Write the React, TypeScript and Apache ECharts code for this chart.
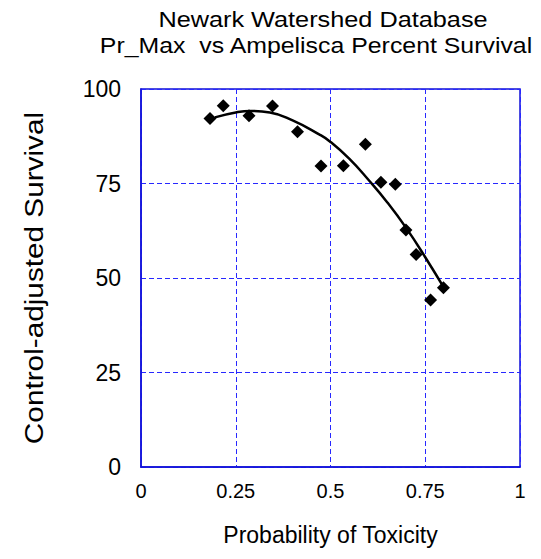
import React, { useEffect, useRef } from "react";
import * as echarts from "echarts";

// Observed samples: probability of toxicity vs control-adjusted survival
const probability = [0.182, 0.217, 0.285, 0.347, 0.413, 0.475, 0.534, 0.592, 0.633, 0.671, 0.699, 0.726, 0.764, 0.798];
const survival = [92.2, 95.6, 92.9, 95.5, 88.7, 79.6, 79.7, 85.4, 75.3, 74.8, 62.7, 56.2, 44.2, 47.4];

// Fitted trend curve, sampled along the x range of the data
const fitX = [0.195, 0.25, 0.29, 0.34, 0.4, 0.47, 0.5, 0.55, 0.6, 0.65, 0.7, 0.75, 0.8];
const fitY = [92.5, 93.8, 94.2, 93.8, 91.7, 88.0, 86.0, 81.5, 76.0, 70.0, 63.2, 55.5, 47.3];

const xTicks = [0, 0.25, 0.5, 0.75, 1];
const yTicks = [0, 25, 50, 75, 100];

const titleLines = ["Newark Watershed Database", "Pr_Max  vs Ampelisca Percent Survival"];
const xTitle = "Probability of Toxicity";
const yTitle = "Control-adjusted Survival";

const FONT = "'Liberation Sans', Arial, sans-serif";
const BLUE = "#1010d8";
const GRID_BLUE = "#2828ff";

export default function App() {
  const ref = useRef<HTMLDivElement>(null);

  useEffect(() => {
    if (!ref.current) return;
    const chart = echarts.init(ref.current, undefined, { renderer: "svg" });
    const scatterData = probability.map((x, i) => [x, survival[i]]);
    const fitData = fitX.map((x, i) => [x, fitY[i]]);

    const textStyle = (size: number) => ({
      fontFamily: FONT,
      fontSize: size,
      fill: "#000",
      align: "center",
      verticalAlign: "middle",
    });

    chart.setOption({
      animation: false,
      backgroundColor: "#ffffff",
      graphic: [
        {
          type: "text",
          x: 323,
          y: 20,
          scaleX: 1.15,
          style: { ...textStyle(22), text: titleLines[0] },
        },
        {
          type: "text",
          x: 316,
          y: 46,
          scaleX: 1.13,
          style: { ...textStyle(22), text: titleLines[1] },
        },
        {
          type: "text",
          x: 34,
          y: 278,
          rotation: Math.PI / 2,
          scaleX: 1.19,
          style: { ...textStyle(25), text: yTitle },
        },
      ],
      grid: {
        left: 141,
        top: 89,
        width: 379,
        height: 378,
        show: true,
        borderColor: BLUE,
        borderWidth: 1.5,
        backgroundColor: "transparent",
      },
      xAxis: {
        type: "value",
        min: xTicks[0],
        max: xTicks[xTicks.length - 1],
        interval: 0.25,
        name: xTitle,
        nameLocation: "middle",
        nameGap: 56,
        nameTextStyle: { fontFamily: FONT, fontSize: 23, color: "#000" },
        axisLine: { show: true, lineStyle: { color: BLUE, width: 1.5 } },
        axisTick: { show: false },
        axisLabel: {
          fontFamily: FONT,
          fontSize: 20,
          color: "#000",
          margin: 14,
          formatter: (v: number) => String(v),
        },
        splitLine: { show: true, lineStyle: { color: GRID_BLUE, type: [5, 3], width: 1 } },
      },
      yAxis: {
        type: "value",
        min: yTicks[0],
        max: yTicks[yTicks.length - 1],
        interval: 25,
        axisLine: { show: true, lineStyle: { color: BLUE, width: 1.5 } },
        axisTick: { show: false },
        axisLabel: { fontFamily: FONT, fontSize: 23, color: "#000", margin: 20 },
        splitLine: { show: true, lineStyle: { color: GRID_BLUE, type: [5, 3], width: 1 } },
      },
      series: [
        {
          type: "line",
          data: fitData,
          smooth: true,
          showSymbol: false,
          lineStyle: { color: "#000", width: 2.5 },
          z: 2,
        },
        {
          type: "scatter",
          data: scatterData,
          symbol: "diamond",
          symbolSize: 13,
          itemStyle: { color: "#000", opacity: 1 },
          z: 3,
        },
      ],
    });

    return () => chart.dispose();
  }, []);

  return <div ref={ref} style={{ width: 541, height: 559, position: "absolute", left: 0, top: 0 }} />;
}
